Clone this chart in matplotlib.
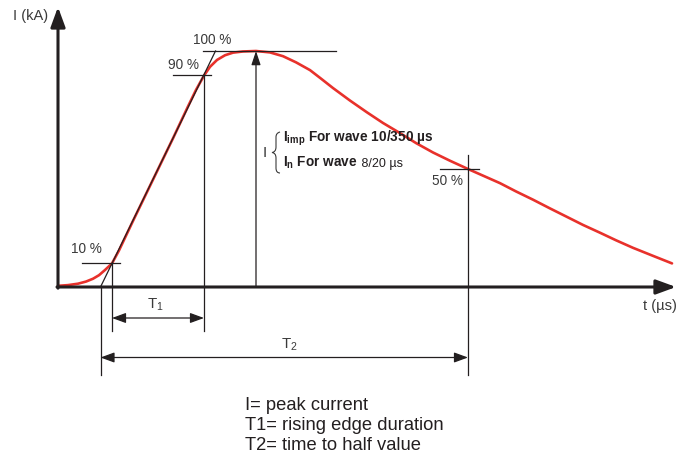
import matplotlib
matplotlib.use('Agg')
import matplotlib.pyplot as plt
from matplotlib.path import Path
from matplotlib.patches import PathPatch
import numpy as np

plt.rcParams['font.family'] = ['Liberation Sans', 'DejaVu Sans']
plt.rcParams['mathtext.fontset'] = 'custom'
plt.rcParams['mathtext.rm'] = 'Liberation Sans'
plt.rcParams['mathtext.bf'] = 'Liberation Sans:bold'

###############################################################################################
# waveform: time (arbitrary units) vs % of peak current

t_wave = [0, 10, 20, 28, 35, 41, 47, 54, 61, 75, 95, 115, 130, 138, 146, 152, 159, 167,
          175, 185, 198, 212, 225, 238, 252, 263, 275, 292, 309, 325, 342, 358, 375, 392,
          410, 426, 442, 458, 475, 492, 509, 525, 542, 558, 575, 595, 614]
i_wave = [0.5, 0.8, 1.4, 2.3, 3.5, 5.0, 7.2, 10, 15.5, 28, 45.5, 63, 76.5, 83.5, 89.6, 93.3, 96.2, 98.2,
          99.3, 99.8, 100, 99.4, 97.8, 95.2, 91.9, 88.3, 84.3, 79, 74, 69.5, 65.2, 61, 57, 53.5,
          50, 47, 44, 40.5, 37, 33.3, 29.7, 26.3, 23, 19.8, 16.6, 13.2, 10]

t_10, t_90, t_peak, t_50 = 54, 146, 198, 410
level_labels = ['10 %', '90 %', '100 %', '50 %']

legend_lines = ['I= peak current', 'T1= rising edge duration', 'T2= time to half value']

###############################################################################################

RED = '#e8312b'
INK = '#231f20'
TXT = '#3a3a3a'

fig = plt.figure(figsize=(6.86, 4.55), dpi=100)
ax = fig.add_axes([0, 0, 1, 1])
ax.set_xlim(-58, 628)
ax.set_ylim((287 - 455) / 2.36, 287 / 2.36)
ax.axis('off')


def P(x, y):
    # pixel position of the reference -> data coords (for text placement)
    return x - 58, (287 - y) / 2.36


# tangent through 10 % and 90 % points
slope = (90 - 10) / (t_90 - t_10)
t_start = t_10 - 10 / slope
t_top = t_90 + 10 / slope

ax.plot(t_wave, i_wave, color=RED, lw=1.9, zorder=2, solid_capstyle='round')

thin = dict(color=INK, lw=0.9, zorder=3)
ax.plot([t_start, t_top], [0, 100], **thin)
ax.plot([t_10 - 30, t_10 + 8], [10, 10], **thin)
ax.plot([t_90 - 31, t_90 + 7], [90, 90], **thin)
ax.plot([t_90 - 1, t_peak + 80], [100, 100], **thin)
ax.plot([t_50 - 28, t_50 + 11], [50, 50], **thin)

y_t1 = P(0, 318)[1]
y_t2 = P(0, 357.5)[1]
y_t1_end = P(0, 331)[1]
y_t2_end = P(0, 375)[1]
ax.plot([t_start, t_start], [0, y_t2_end], **thin)
ax.plot([t_10, t_10], [10, y_t1_end], **thin)
ax.plot([t_90, t_90], [90, y_t1_end], **thin)
ax.plot([t_50, t_50], [56, y_t2_end], **thin)

small_head = dict(arrowstyle='-|>,head_length=0.6,head_width=0.2', mutation_scale=14,
                  color=INK, lw=0.9, shrinkA=0, shrinkB=0)
ax.annotate('', xy=(t_peak, 100), xytext=(t_peak, 0), arrowprops=small_head, zorder=3)
dbl = dict(small_head, arrowstyle='<|-|>,head_length=0.6,head_width=0.22')
ax.annotate('', xy=(t_90, y_t1), xytext=(t_10, y_t1), arrowprops=dbl)
ax.annotate('', xy=(t_50, y_t2), xytext=(t_start, y_t2), arrowprops=dbl)

# main axes with arrow heads
big_head = dict(arrowstyle='-|>,head_length=0.6,head_width=0.22', mutation_scale=20,
                color=INK, lw=2.2, shrinkA=0, shrinkB=0)
ax.annotate('', xy=P(676, 287), xytext=(-1, 0), arrowprops=big_head, zorder=5)
ax.annotate('', xy=P(58, 7), xytext=(0, -0.5), arrowprops=big_head, zorder=5)

# curly brace in front of the two wave lines
brace_px = [(280, 132), (276, 133), (276, 137), (276, 147), (276, 152), (272, 152.5),
            (276, 153), (276, 158), (276, 168), (276, 173), (280, 173)]
codes = [Path.MOVETO, Path.CURVE3, Path.CURVE3, Path.LINETO, Path.CURVE3, Path.CURVE3,
         Path.CURVE3, Path.CURVE3, Path.LINETO, Path.CURVE3, Path.CURVE3]
brace = Path([P(*p) for p in brace_px], codes)
ax.add_patch(PathPatch(brace, fill=False, edgecolor=TXT, lw=0.8, zorder=3))

###############################################################################################
# texts

fs = 9.8
ax.text(*P(31, 16), 'I (kA)', fontsize=10.5, color=TXT, ha='center', va='center')
ax.text(*P(677, 306), 't (µs)', fontsize=10.5, color=TXT, ha='right', va='center')
for lab, xy in zip(level_labels, [(86, 249), (183, 65), (212, 40), (447, 181)]):
    ax.text(*P(*xy), lab, fontsize=fs, color=TXT, ha='center', va='center')
ax.text(*P(155, 305), r'T$_1$', fontsize=fs + 1, color=TXT, ha='center', va='center')
ax.text(*P(289, 345), r'T$_2$', fontsize=fs + 1, color=TXT, ha='center', va='center')

ax.text(*P(265, 153), 'I', fontsize=11, color=TXT, ha='center', va='center')
ax.text(*P(283, 138), r'$\mathbf{I}_{\mathbf{imp}}$ For wave 10/350 µs', fontsize=9.8,
        color=INK, fontweight='bold', ha='left', va='center')
first = ax.text(*P(283, 167), r'$\mathbf{I}_{\mathbf{n}}$ For wave', fontsize=9.8,
                color=INK, fontweight='bold', ha='left', va='baseline')
renderer = fig.canvas.get_renderer()
bb = first.get_window_extent(renderer)
x_end = ax.transData.inverted().transform((bb.x1, bb.y0))[0]
ax.text(x_end, P(283, 167)[1], ' 8/20 µs', fontsize=9, color=INK, ha='left', va='baseline')

for k, line in enumerate(legend_lines):
    ax.text(*P(245, 405 + 20 * k), line, fontsize=13.2, color=INK, ha='left', va='center')

fig.savefig('out.png', dpi=100)
